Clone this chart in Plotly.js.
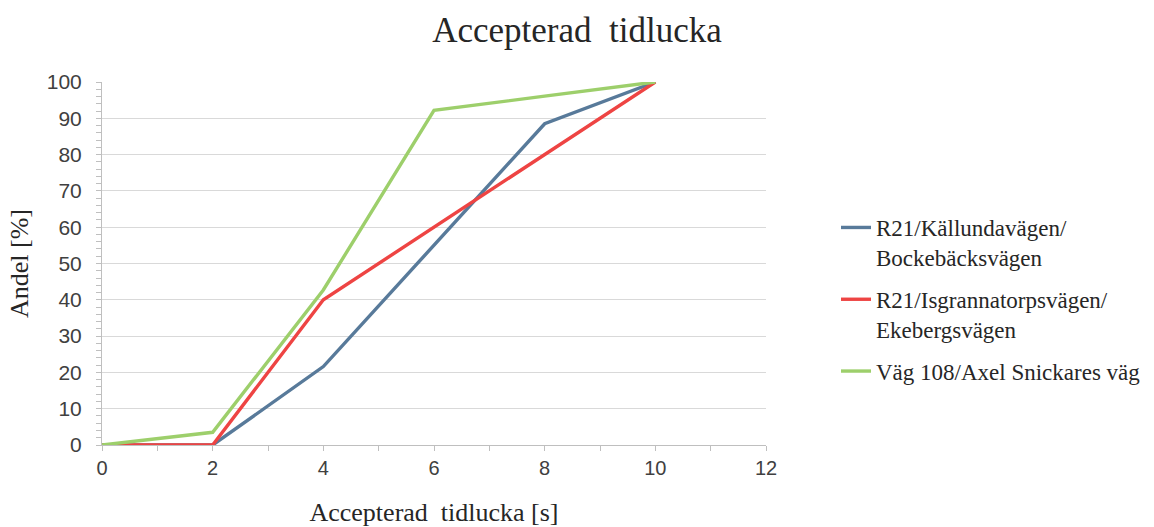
<!DOCTYPE html>
<html>
<head>
<meta charset="utf-8">
<script src="https://cdn.plot.ly/plotly-3.0.1.min.js"></script>
<style>
  html, body { margin: 0; padding: 0; background: #ffffff; }
  #chart { width: 1154px; height: 527px; }
</style>
</head>
<body>
<div id="chart"></div>
<script>
// Accepted time gap [s] on the x axis
const gapSeconds = [0, 2, 4, 6, 8, 10];

// Cumulative share [%] per intersection
const kallundavagen = [0, 0, 21.6, 55, 88.5, 100];
const isgrannatorpsvagen = [0, 0, 40, 60, 80, 100];
const axelSnickaresVag = [0, 3.5, 42.7, 92.2, 96.1, 100];

const seriesNames = [
  'R21/Källundavägen/<br>Bockebäcksvägen',
  'R21/Isgrannatorpsvägen/<br>Ekebergsvägen',
  'Väg 108/Axel Snickares väg'
];
const seriesColors = ['#587a9a', '#ee4443', '#9dcf6b'];
const seriesValues = [kallundavagen, isgrannatorpsvagen, axelSnickaresVag];

const traces = seriesValues.map((vals, i) => ({
  type: 'scatter',
  mode: 'lines',
  x: gapSeconds,
  y: vals,
  name: seriesNames[i],
  legendgroup: 'g' + i,
  line: { color: seriesColors[i], width: 3.4 },
  hoverinfo: 'x+y+name'
}));

const serif = '"Liberation Serif", "Times New Roman", serif';
const sans = '"Liberation Sans", Arial, sans-serif';
const axisGray = '#bfbfbf';

const layout = {
  width: 1154,
  height: 527,
  margin: { l: 102, r: 388, t: 82, b: 82, pad: 0, autoexpand: false },
  paper_bgcolor: '#ffffff',
  plot_bgcolor: '#ffffff',
  font: { family: serif, size: 22, color: '#262626' },
  showlegend: true,
  title: {
    text: 'Accepterad\u00a0 tidlucka',
    font: { family: serif, size: 35, color: '#262626' },
    x: 0.5, xanchor: 'center',
    y: 1 - 30 / 527, yanchor: 'middle', yref: 'container'
  },
  xaxis: {
    range: [0, 12],
    dtick: 2,
    tick0: 0,
    showgrid: false,
    zeroline: false,
    showline: true,
    linecolor: axisGray,
    linewidth: 1,
    ticks: 'outside',
    ticklen: 5,
    tickcolor: axisGray,
    tickfont: { family: sans, size: 20, color: '#404040' },
    minor: { dtick: 1, ticks: 'outside', ticklen: 5, tickcolor: axisGray, showgrid: false },
    title: {
      text: 'Accepterad\u00a0 tidlucka [s]',
      font: { family: serif, size: 26, color: '#262626' },
      standoff: 24
    },
    fixedrange: true
  },
  yaxis: {
    range: [0, 100],
    dtick: 10,
    tick0: 0,
    showgrid: true,
    gridcolor: '#d9d9d9',
    gridwidth: 1,
    zeroline: false,
    showline: true,
    linecolor: axisGray,
    linewidth: 1,
    ticks: 'outside',
    ticklen: 5,
    tickcolor: axisGray,
    ticklabelstandoff: 10,
    tickfont: { family: sans, size: 21, color: '#404040' },
    minor: { dtick: 2, ticks: 'outside', ticklen: 5, tickcolor: axisGray, showgrid: false },
    title: {
      text: 'Andel [%]',
      font: { family: serif, size: 26, color: '#262626' },
      standoff: 10
    },
    fixedrange: true
  },
  legend: {
    x: (836 - 102) / 664,
    xanchor: 'left',
    y: (445 - 206) / 363,
    yanchor: 'top',
    valign: 'top',
    tracegroupgap: 9,
    bgcolor: 'rgba(0,0,0,0)',
    font: { family: serif, size: 23, color: '#262626' }
  }
};

Plotly.newPlot('chart', traces, layout, { displayModeBar: false, staticPlot: true });
</script>
</body>
</html>
